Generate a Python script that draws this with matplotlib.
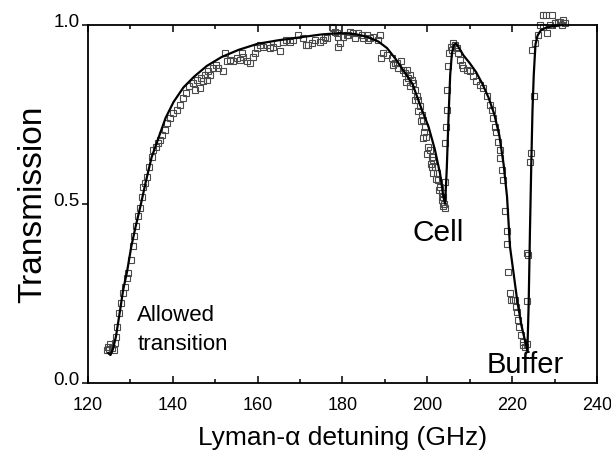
import matplotlib
matplotlib.use("Agg")
import matplotlib.pyplot as plt
from matplotlib.ticker import MultipleLocator

plt.rcParams["font.family"] = ["Liberation Sans", "DejaVu Sans"]

# Measured transmission (open squares)
data_x = [
    124.4, 124.8, 125.0, 125.3, 125.6, 126.1, 126.4, 126.6, 126.9, 127.4,
    127.8, 128.3, 128.7, 129.1, 129.5, 130.1, 130.5, 130.8, 131.3, 131.9,
    132.3, 132.7, 133.0, 133.4, 133.8, 134.5, 135.0, 135.4, 136.0, 136.6,
    137.0, 137.4, 138.2, 138.7, 139.3, 140.1, 140.9, 141.7, 142.5, 143.1,
    143.9, 144.7, 145.2, 145.8, 146.4, 146.6, 147.2, 147.6, 148.0, 148.4,
    148.8, 149.5, 150.3, 150.7, 151.9, 152.3, 152.7, 153.5, 154.3, 155.1,
    155.9, 156.2, 156.6, 157.4, 158.2, 159.0, 159.4, 159.8, 160.6, 161.3,
    162.1, 162.9, 163.7, 164.5, 165.3, 166.0, 166.8, 167.6, 168.4, 169.6,
    170.8, 171.5, 171.9, 172.7, 173.5, 174.7, 175.5, 175.9, 176.3, 177.5,
    177.8, 178.2, 178.6, 179.0, 179.0, 179.4, 180.2, 181.0, 181.4, 181.8,
    182.6, 182.9, 183.7, 184.5, 184.9, 185.7, 186.1, 186.5, 187.3, 188.4,
    188.8, 189.2, 189.6, 190.4, 191.6, 192.0, 192.4, 192.8, 193.2, 193.9,
    194.3, 194.8, 195.1, 195.5, 195.9, 196.3, 196.7, 197.1, 197.5, 197.9,
    198.3, 198.7, 199.0, 199.4, 199.8, 200.2, 200.6, 201.0, 201.4, 201.8,
    202.2, 202.6, 203.0, 203.4, 203.8, 204.0, 204.2,
    195.0, 196.0, 197.0, 197.8, 198.6, 199.2, 199.0, 200.0, 200.8, 201.0,
    201.4, 202.0, 202.8, 203.4, 203.8,
    204.2, 204.2, 204.4, 204.6, 204.7, 204.9, 205.2, 205.5, 205.8, 206.1,
    206.5, 206.9, 207.3, 207.7, 208.1, 208.5, 209.3, 210.1, 210.8, 211.6,
    212.4, 213.2, 214.0, 214.8, 215.2, 215.6, 215.9, 216.3, 216.7, 217.1,
    217.1, 217.5, 217.9, 218.3, 218.7, 218.9, 219.1, 219.5, 219.7, 220.3,
    220.7, 220.9, 221.1, 221.4, 221.7, 222.0, 222.5, 222.6, 223.0, 223.4,
    223.4, 223.4, 223.8, 224.2, 224.4, 225.1, 224.8, 225.4, 226.2, 226.6,
    227.3, 227.3, 228.1, 228.3, 228.9, 229.3, 230.1, 230.9, 231.3, 231.7,
    232.1, 232.5,
]
data_y = [
    0.092, 0.101, 0.095, 0.110, 0.098, 0.092, 0.111, 0.129, 0.157, 0.195,
    0.223, 0.251, 0.269, 0.292, 0.306, 0.344, 0.381, 0.409, 0.437, 0.465,
    0.488, 0.520, 0.548, 0.558, 0.576, 0.604, 0.632, 0.651, 0.660, 0.670,
    0.679, 0.693, 0.707, 0.725, 0.739, 0.753, 0.763, 0.777, 0.795, 0.809,
    0.828, 0.837, 0.818, 0.846, 0.823, 0.851, 0.842, 0.860, 0.846, 0.870,
    0.860, 0.879, 0.888, 0.879, 0.870, 0.921, 0.898, 0.902, 0.898, 0.907,
    0.902, 0.921, 0.911, 0.898, 0.893, 0.911, 0.921, 0.935, 0.944, 0.939,
    0.944, 0.935, 0.939, 0.949, 0.926, 0.953, 0.958, 0.953, 0.958, 0.972,
    0.963, 0.944, 0.944, 0.949, 0.958, 0.953, 0.958, 0.967, 0.963, 0.995,
    0.991, 0.981, 0.977, 0.939, 0.967, 0.949, 0.967, 0.972, 0.972, 0.981,
    0.977, 0.963, 0.977, 0.972, 0.963, 0.972, 0.958, 0.963, 0.967, 0.958,
    0.972, 0.907, 0.921, 0.916, 0.907, 0.888, 0.893, 0.893, 0.879, 0.898,
    0.874, 0.865, 0.874, 0.851, 0.860, 0.846, 0.837, 0.818, 0.800, 0.791,
    0.772, 0.749, 0.735, 0.716, 0.688, 0.660, 0.651, 0.632, 0.623, 0.604,
    0.586, 0.567, 0.548, 0.530, 0.520, 0.500, 0.488,
    0.840, 0.830, 0.790, 0.760, 0.730, 0.700, 0.683, 0.640, 0.610, 0.604,
    0.586, 0.570, 0.540, 0.510, 0.495,
    0.560, 0.670, 0.716, 0.763, 0.818, 0.884, 0.921, 0.939, 0.930, 0.949,
    0.944, 0.935, 0.921, 0.902, 0.888, 0.879, 0.874, 0.870, 0.856, 0.842,
    0.832, 0.823, 0.800, 0.777, 0.763, 0.739, 0.716, 0.702, 0.674, 0.651,
    0.628, 0.595, 0.567, 0.479, 0.423, 0.388, 0.311, 0.251, 0.232, 0.232,
    0.232, 0.213, 0.199, 0.176, 0.157, 0.134, 0.115, 0.106, 0.101, 0.110,
    0.230, 0.362, 0.358, 0.618, 0.642, 0.800, 0.930, 0.949, 0.972, 1.000,
    0.995, 1.028, 1.028, 0.977, 1.000, 1.028, 1.005, 1.009, 1.009, 1.000,
    1.014, 1.005,
]

# Calculated transmission (solid line)
fit_x = [
    124.8, 125.3, 125.9, 126.6, 127.4, 128.3, 129.2, 130.2, 131.2, 132.3,
    133.6, 135.0, 136.5, 138.3, 140.2, 142.5, 145.0, 148.0, 151.5, 155.5,
    160.0, 165.0, 170.0, 175.0, 179.5, 183.0, 186.0, 188.5, 190.5, 192.5,
    194.5, 196.5, 198.5, 200.3, 201.8, 203.0, 203.8, 204.2, 204.6, 205.0,
    205.4, 205.8, 206.3, 206.8, 207.5, 208.5, 210.0, 211.5, 213.0, 214.5,
    215.8, 217.0, 218.0, 218.8, 219.5, 220.3, 221.2, 222.2, 223.0, 223.6,
    223.9, 224.2, 224.5, 224.8, 225.1, 225.5, 226.0, 226.8, 228.0, 230.0,
    232.0,
]
fit_y = [
    0.083, 0.078, 0.095, 0.130, 0.190, 0.260, 0.310, 0.380, 0.435, 0.490,
    0.560, 0.630, 0.680, 0.740, 0.785, 0.825, 0.855, 0.885, 0.910, 0.930,
    0.947, 0.957, 0.965, 0.973, 0.977, 0.974, 0.966, 0.953, 0.935, 0.905,
    0.870, 0.835, 0.770, 0.715, 0.651, 0.585, 0.520, 0.500, 0.600, 0.740,
    0.860, 0.920, 0.945, 0.948, 0.935, 0.915, 0.893, 0.868, 0.835, 0.795,
    0.750, 0.690, 0.610, 0.520, 0.380, 0.310, 0.230, 0.160, 0.120, 0.090,
    0.220, 0.420, 0.600, 0.760, 0.860, 0.945, 0.970, 0.985, 0.992, 0.997,
    1.000,
]

x_ticks = [120, 140, 160, 180, 200, 220, 240]
y_ticks = [0.0, 0.5, 1.0]
y_tick_labels = ["0.0", "0.5", "1.0"]

fig = plt.figure(figsize=(6.11, 4.51), dpi=100)
ax = fig.add_axes([0.144, 0.151, 0.833, 0.794])

ax.plot(data_x, data_y, "s", mfc="none", mec="#4a4a4a", ms=4.1, mew=0.8,
        clip_on=False, zorder=2)
ax.plot(fit_x, fit_y, "k-", lw=1.6, zorder=3)

ax.set_xlim(120, 240)
ax.set_ylim(0, 1)
ax.set_xticks(x_ticks)
ax.xaxis.set_minor_locator(MultipleLocator(10))
ax.set_yticks(y_ticks)
ax.set_yticklabels(y_tick_labels)

ax.tick_params(axis="x", which="both", direction="in", top=True, labelsize=13,
               pad=10, width=1.1)
ax.tick_params(axis="x", which="major", length=5)
ax.tick_params(axis="x", which="minor", length=3)
ax.tick_params(axis="y", direction="out", length=4, width=1.1, labelsize=13.5,
               right=False, pad=2)
for s in ax.spines.values():
    s.set_linewidth(1.3)

# nudge y tick labels up a little, as in the original
import matplotlib.transforms as mtransforms
offset = mtransforms.ScaledTranslation(0, 4 / 100, fig.dpi_scale_trans)
for lab in ax.get_yticklabels():
    lab.set_transform(lab.get_transform() + offset)

ax.set_xlabel("Lyman-\u03b1 detuning (GHz)", fontsize=19, labelpad=9)
ax.set_ylabel("Transmission", fontsize=24, labelpad=4)

# annotations
ax.text(131.6, 0.148, "Allowed\ntransition", fontsize=16, ha="left",
        va="center", linespacing=1.5)
ax.text(202.5, 0.419, "Cell", fontsize=21.5, ha="center", va="center")
ax.text(223.0, 0.05, "Buffer", fontsize=21, ha="center", va="center")

fig.savefig("out.png", dpi=100)
plt.close(fig)
